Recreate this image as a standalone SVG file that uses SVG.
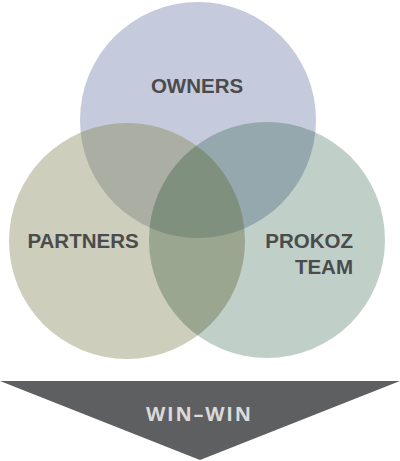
<svg xmlns="http://www.w3.org/2000/svg" width="400" height="461" viewBox="0 0 400 461">
  <style>
    .lbl { font-family: "Liberation Sans", Arial, sans-serif; font-weight: bold; font-size: 20.5px; fill: #4a4b4d; }
    .ww { font-family: "Open Sans", "Noto Sans", sans-serif; font-weight: 700; font-size: 20px; fill: #dadada; }
  </style>
  <defs>
    <clipPath id="cT"><circle cx="198" cy="120" r="118"/></clipPath>
    <clipPath id="cL"><circle cx="127" cy="241" r="118"/></clipPath>
    <clipPath id="cR"><circle cx="267" cy="240" r="118"/></clipPath>
  </defs>
  <rect width="400" height="461" fill="#ffffff"/>
  <g id="owners">
    <circle cx="198" cy="120" r="118" fill="#c5cadc"/>
  </g>
  <g id="partners">
    <circle cx="127" cy="241" r="118" fill="#cecebc"/>
  </g>
  <g id="prokoz-team">
    <circle cx="267" cy="240" r="118" fill="#c0d0c8"/>
  </g>
  <g id="overlaps">
    <circle cx="127" cy="241" r="118" fill="#abaea2" clip-path="url(#cT)"/>
    <circle cx="267" cy="240" r="118" fill="#94a8ae" clip-path="url(#cT)"/>
    <circle cx="267" cy="240" r="118" fill="#9ba691" clip-path="url(#cL)"/>
    <g clip-path="url(#cL)">
      <circle cx="267" cy="240" r="118" fill="#80907f" clip-path="url(#cT)"/>
    </g>
  </g>
  <g id="labels">
    <text class="lbl" x="197" y="93" text-anchor="middle">OWNERS</text>
    <text class="lbl" x="83" y="248" text-anchor="middle">PARTNERS</text>
    <text class="lbl" x="353" y="248" text-anchor="end">PROKOZ</text>
    <text class="lbl" x="353" y="274" text-anchor="end">TEAM</text>
  </g>
  <g id="win-win">
    <polygon points="0,381 400,381 200,460" fill="#5e5f61"/>
    <text class="ww" x="198.5" y="421" text-anchor="middle" textLength="105" lengthAdjust="spacing">WIN–WIN</text>
  </g>
</svg>
